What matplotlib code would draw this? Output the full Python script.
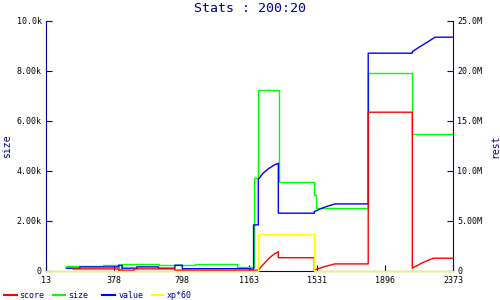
import matplotlib
matplotlib.use("Agg")
import matplotlib.pyplot as plt
from matplotlib.lines import Line2D

plt.rcParams['font.family'] = ['DejaVu Sans Mono']

NAVY = '#000080'

# x axis: evenly spaced tick positions with their labels
x_tick_pos = [0, 1, 2, 3, 4, 5, 6]
x_tick_labels = ["13", "378", "798", "1163", "1531", "1896", "2373"]

# left axis (size, thousands)
size_ticks = [0, 2, 4, 6, 8, 10]
size_tick_labels = ["0", "2.00k", "4.00k", "6.00k", "8.00k", "10.0k"]
# right axis (rest, millions)
rest_ticks = [0, 5, 10, 15, 20, 25]
rest_tick_labels = ["0", "5.00M", "10.0M", "15.0M", "20.0M", "25.0M"]

# size series (thousands), step-post
size_x = [0.30, 0.84, 1.07, 1.12, 1.66, 2.20, 2.81, 3.06, 3.13, 3.43, 3.955, 3.98, 4.75, 5.40, 6.00]
size_k = [0.19, 0.23, 0.06, 0.27, 0.21, 0.27, 0.13, 3.70, 7.22, 3.54, 3.03, 2.50, 7.90, 5.46, 5.46]

# value series (millions)
value_x = [0.30, 0.50, 0.50, 1.07, 1.07, 1.12, 1.12, 1.34, 1.34, 1.66, 1.66, 1.90, 1.90, 2.01, 2.01,
           3.01, 3.01, 3.06, 3.06, 3.13, 3.13, 3.20, 3.28, 3.36, 3.425, 3.425, 3.955, 3.955, 4.05,
           4.15, 4.26, 4.75, 4.75, 5.40, 5.40, 5.50, 5.62, 5.735, 6.00]
value_m = [0.25, 0.25, 0.38, 0.38, 0.55, 0.55, 0.25, 0.25, 0.38, 0.38, 0.25, 0.25, 0.55, 0.55, 0.20,
           0.20, 0.15, 0.15, 4.58, 4.58, 9.13, 9.75, 10.2, 10.55, 10.75, 5.75, 5.75, 5.90, 6.20,
           6.45, 6.68, 6.68, 21.75, 21.75, 21.90, 22.35, 22.85, 23.35, 23.35]

# score series (millions)
score_x = [0.40, 1.07, 1.07, 1.30, 1.30, 1.90, 1.90, 3.13, 3.20, 3.28, 3.36, 3.425, 3.425, 3.955,
           3.955, 3.98, 4.10, 4.26, 4.75, 4.75, 5.40, 5.40, 5.55, 5.71, 6.00]
score_m = [0.18, 0.18, 0.05, 0.05, 0.18, 0.18, 0.05, 0.05, 0.60, 1.20, 1.65, 1.90, 1.30, 1.30,
           0.10, 0.12, 0.40, 0.68, 0.68, 15.85, 15.85, 0.25, 0.80, 1.25, 1.25]

# xp*60 series (millions), step-post
xp_x = [0.00, 3.13, 3.955, 6.00]
xp_m = [0.00, 3.65, 0.00, 0.00]

fig = plt.figure(figsize=(5, 3), dpi=100)
ax = fig.add_axes([46/500, 1 - 270.7/300, (453 - 46)/500, 250/300])
ax2 = ax.twinx()

ax.plot(size_x, size_k, color='#00FF00', lw=1.0, drawstyle='steps-post', clip_on=False, zorder=3)
ax2.plot(value_x, value_m, color='#0000FF', lw=1.0, clip_on=False, zorder=3)
ax2.plot(score_x, score_m, color='#FF0000', lw=1.0, clip_on=False, zorder=4)
ax2.plot(xp_x, xp_m, color='#FFFF00', lw=1.0, drawstyle='steps-post', clip_on=False, zorder=5)

ax.set_xlim(0, 6)
ax.set_ylim(0, 10)
ax2.set_ylim(0, 25)

ax.set_xticks(x_tick_pos)
ax.set_xticklabels(x_tick_labels)
ax.set_yticks(size_ticks)
ax.set_yticklabels(size_tick_labels)
ax2.set_yticks(rest_ticks)
ax2.set_yticklabels(rest_tick_labels)

for a in (ax, ax2):
    a.patch.set_visible(False)
    for s in a.spines.values():
        s.set_color(NAVY)
        s.set_linewidth(0.8)
    a.spines['top'].set_visible(False)
    a.tick_params(direction='in', length=4, width=0.8, color=NAVY,
                  labelcolor='black', labelsize=6, pad=3)
ax.spines['right'].set_visible(False)
ax2.spines['left'].set_visible(False)
ax2.spines['bottom'].set_visible(False)
ax.tick_params(axis='x', pad=3.5)

fig.text(0.5, 1 - 8/300, "Stats : 200:20", ha='center', va='center', color=NAVY, fontsize=9.5)
fig.text(7.5/500, 1 - 146/300, "size", rotation=90, ha='center', va='center', color=NAVY, fontsize=7)
fig.text(495/500, 1 - 146/300, "rest", rotation=90, ha='center', va='center', color=NAVY, fontsize=7)

legend_items = [("score", '#FF0000', 4, 16.7, 19.3),
                ("size", '#00FF00', 53.3, 65, 68.3),
                ("value", '#0000FF', 101.7, 115, 118.3),
                ("xp*60", '#FFFF00', 151.7, 163.3, 166.7)]
ly = 1 - 295/300
for name, col, x0, x1, tx in legend_items:
    fig.add_artist(Line2D([x0/500, x1/500], [ly, ly], color=col, lw=1.5, transform=fig.transFigure))
    fig.text(tx/500, ly, name, ha='left', va='center', color=NAVY, fontsize=6)

fig.savefig("out.png", dpi=100)
